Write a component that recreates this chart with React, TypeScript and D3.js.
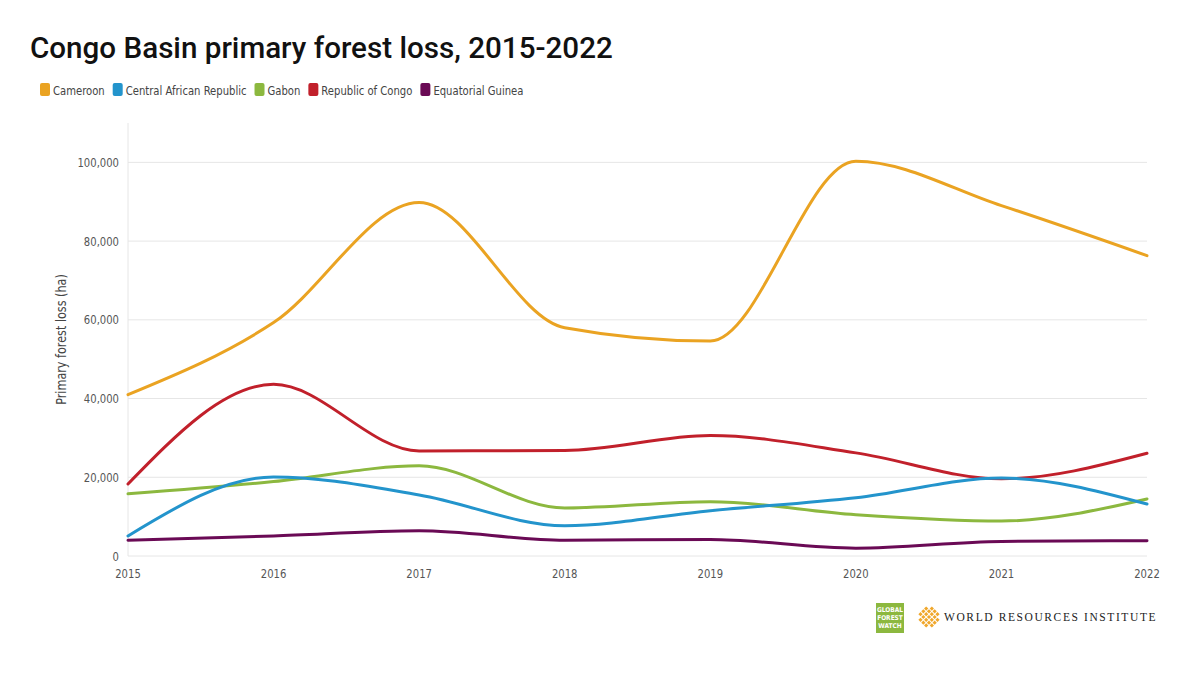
import * as d3 from "d3";
import { useEffect, useRef } from "react";

const years = [2015, 2016, 2017, 2018, 2019, 2020, 2021, 2022];
const countries = ["Cameroon", "Central African Republic", "Gabon", "Republic of Congo", "Equatorial Guinea"];
const colors = ["#eaa322", "#2394cc", "#8cb83f", "#c1202b", "#6a0a55"];
const cameroon = [41000, 59300, 89800, 58000, 54600, 100300, 89000, 76300];
const car = [5100, 20100, 15500, 7700, 11500, 14800, 19800, 13200];
const gabon = [15800, 18900, 22900, 12200, 13800, 10500, 8900, 14500];
const roc = [18300, 43600, 26700, 26800, 30600, 26200, 19600, 26100];
const eqGuinea = [4000, 5100, 6400, 4000, 4200, 2000, 3700, 3900];
const series = [cameroon, car, gabon, roc, eqGuinea];
const yTicks = [0, 20000, 40000, 60000, 80000, 100000];

const narrow = "'DejaVu Sans', sans-serif";
const squeeze = 0.86;

export default function App() {
  const ref = useRef<SVGSVGElement>(null);

  useEffect(() => {
    const svg = d3.select(ref.current);
    svg.selectAll("*").remove();

    const width = 1200;
    const height = 675;
    const marginLeft = 128;
    const marginRight = 53;
    const marginTop = 123;
    const marginBottom = 119;

    const x = d3.scaleLinear().domain([2015, 2022]).range([marginLeft, width - marginRight]);
    const y = d3.scaleLinear().domain([0, 110000]).range([height - marginBottom, marginTop]);

    svg.append("rect").attr("width", width).attr("height", height).attr("fill", "#fff");

    // Title
    svg
      .append("text")
      .attr("x", 30)
      .attr("y", 58)
      .attr("font-family", "Roboto, sans-serif")
      .attr("font-weight", 500)
      .attr("font-size", 29.6)
      .attr("fill", "#111")
      .text("Congo Basin primary forest loss, 2015-2022");

    // Legend
    const legend = svg
      .append("g")
      .attr("font-family", narrow)
      .style("font-stretch", "condensed")
      .attr("font-size", 13)
      .attr("fill", "#444");
    let lx = 40;
    countries.forEach((c, i) => {
      legend.append("rect").attr("x", lx).attr("y", 83).attr("width", 10).attr("height", 13).attr("rx", 2).attr("fill", colors[i]);
      const t = legend
        .append("text")
        .attr("transform", `translate(${lx + 13},94.5) scale(${squeeze},1)`)
        .text(c);
      const w = (t.node() as SVGTextElement).getComputedTextLength() * squeeze;
      lx += w + 21;
    });

    // Grid
    svg
      .append("g")
      .selectAll("line")
      .data(yTicks)
      .join("line")
      .attr("x1", marginLeft)
      .attr("x2", width - marginRight)
      .attr("y1", (d) => y(d))
      .attr("y2", (d) => y(d))
      .attr("stroke", "#e6e6e6")
      .attr("stroke-width", 1);

    svg
      .append("line")
      .attr("x1", marginLeft)
      .attr("x2", marginLeft)
      .attr("y1", marginTop)
      .attr("y2", height - marginBottom)
      .attr("stroke", "#e6e6e6");

    // Y axis labels
    svg
      .append("g")
      .attr("font-family", narrow)
      .style("font-stretch", "condensed")
      .attr("font-size", 13)
      .attr("fill", "#555")
      .attr("text-anchor", "end")
      .selectAll("text")
      .data(yTicks)
      .join("text")
      .attr("transform", (d) => `translate(${marginLeft - 9},${y(d) + 4.5}) scale(${squeeze},1)`)
      .text((d) => d3.format(",")(d));

    svg
      .append("text")
      .attr("transform", `translate(66,${(marginTop + height - marginBottom) / 2}) rotate(-90) scale(${squeeze},1)`)
      .attr("text-anchor", "middle")
      .attr("font-family", narrow)
      .style("font-stretch", "condensed")
      .attr("font-size", 14.5)
      .attr("fill", "#444")
      .text("Primary forest loss (ha)");

    // X axis labels
    svg
      .append("g")
      .attr("font-family", narrow)
      .style("font-stretch", "condensed")
      .attr("font-size", 13)
      .attr("fill", "#555")
      .attr("text-anchor", "middle")
      .selectAll("text")
      .data(years)
      .join("text")
      .attr("transform", (d) => `translate(${x(d)},${height - marginBottom + 22}) scale(${squeeze},1)`)
      .text((d) => String(d));

    // Lines
    const line = d3
      .line<number>()
      .x((_, i) => x(years[i]))
      .y((d) => y(d))
      .curve(d3.curveMonotoneX);

    svg
      .append("g")
      .selectAll("path")
      .data(series.slice().reverse())
      .join("path")
      .attr("d", (d) => line(d))
      .attr("fill", "none")
      .attr("stroke", (_, i) => colors[series.length - 1 - i])
      .attr("stroke-width", 3)
      .attr("stroke-linecap", "round");

    // Logos
    const gfw = svg.append("g").attr("transform", "translate(876,603)");
    gfw.append("rect").attr("width", 28).attr("height", 30).attr("fill", "#8cb83f");
    ["GLOBAL", "FOREST", "WATCH"].forEach((w, i) => {
      gfw
        .append("text")
        .attr("x", 14)
        .attr("y", 9 + i * 8)
        .attr("text-anchor", "middle")
        .attr("font-family", narrow)
        .style("font-stretch", "condensed")
        .attr("font-weight", "bold")
        .attr("font-size", 6.5)
        .attr("fill", "#fff")
        .text(w);
    });

    const wri = svg.append("g").attr("transform", "translate(929,617)");
    for (let r = -2; r <= 2; r++) {
      for (let c = -2; c <= 2; c++) {
        if (Math.abs(r) + Math.abs(c) > 3) continue;
        wri
          .append("rect")
          .attr("x", c * 4 - 1.5)
          .attr("y", r * 4 - 1.5)
          .attr("width", 3)
          .attr("height", 3)
          .attr("transform", "rotate(45)")
          .attr("fill", "#f0a72b");
      }
    }
    svg
      .append("text")
      .attr("x", 944)
      .attr("y", 621)
      .attr("font-family", "'Liberation Serif', 'DejaVu Serif', serif")
      .attr("font-size", 11.5)
      .attr("letter-spacing", 1.6)
      .attr("fill", "#222")
      .text("WORLD RESOURCES INSTITUTE");
  }, []);

  return (
    <svg
      ref={ref}
      width={1200}
      height={675}
      viewBox="0 0 1200 675"
      style={{ position: "absolute", left: 0, top: 0 }}
    />
  );
}
